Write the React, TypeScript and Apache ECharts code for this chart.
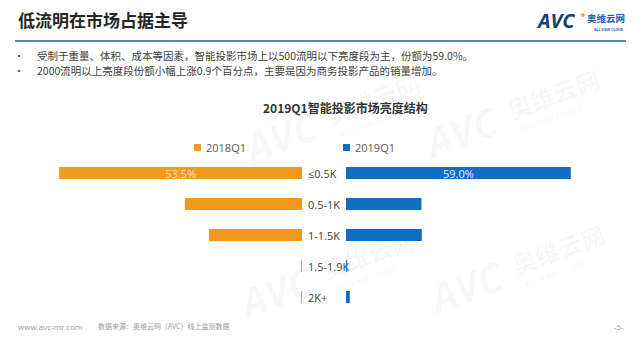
import React, { useEffect, useRef } from "react";
import * as echarts from "echarts";

const categories = ["≤0.5K", "0.5-1K", "1-1.5K", "1.5-1.9K", "2K+"];
const series2018 = [53.5, 25.8, 20.5, 0.1, 0.1];
const series2019 = [59.0, 19.8, 19.9, 0.3, 1.0];
const seriesNames = ["2018Q1", "2019Q1"];
const bullets = [
  "受制于重量、体积、成本等因素，智能投影市场上以500流明以下亮度段为主，份额为59.0%。",
  "2000流明以上亮度段份额小幅上涨0.9个百分点，主要是因为商务投影产品的销量增加。",
];

const ORANGE = "#F39A1E";
const BLUE = "#0F6EC4";

function watermark(x: number, y: number) {
  return {
    type: "group",
    x,
    y,
    rotation: (20 * Math.PI) / 180,
    silent: true,
    children: [
      {
        type: "text",
        x: 0,
        y: 0,
        style: {
          text: "AVC",
          font: "italic bold 40px 'Open Sans', sans-serif",
          fill: "rgba(0,0,0,0.035)",
        },
      },
      {
        type: "text",
        x: 88,
        y: 4,
        style: {
          text: "奥维云网",
          font: "bold 24px 'Noto Sans CJK SC', sans-serif",
          fill: "rgba(0,0,0,0.035)",
        },
      },
      {
        type: "text",
        x: 92,
        y: 34,
        style: {
          text: "ALL VIEW CLOUD",
          font: "bold 8px 'Open Sans', sans-serif",
          fill: "rgba(0,0,0,0.04)",
        },
      },
    ],
  };
}

export default function App() {
  const ref = useRef<HTMLDivElement>(null);
  useEffect(() => {
    document.body.style.margin = "0";
    const chart = echarts.init(ref.current!, null, { renderer: "svg" });
    const labelFirst = (color: string) => ({
      show: true,
      position: "inside",
      color,
      fontSize: 11,
      fontFamily: "'Open Sans', sans-serif",
      formatter: (p: any) => (p.dataIndex === 0 ? p.value.toFixed(1) + "%" : ""),
    });
    const legendText = {
      fontSize: 11,
      color: "#595959",
      fontFamily: "'Open Sans', sans-serif",
    };
    chart.setOption({
      animation: false,
      backgroundColor: "#ffffff",
      title: {
        text: "2019Q1智能投影市场亮度结构",
        left: 258,
        top: 96,
        textStyle: {
          fontSize: 12,
          fontWeight: "bold",
          color: "#333333",
          fontFamily: "'Noto Sans CJK SC', sans-serif",
        },
      },
      legend: [
        {
          data: [seriesNames[0]],
          left: 189,
          top: 137,
          icon: "rect",
          itemWidth: 7,
          itemHeight: 7,
          itemGap: 4,
          textStyle: legendText,
        },
        {
          data: [seriesNames[1]],
          left: 338,
          top: 137,
          icon: "rect",
          itemWidth: 7,
          itemHeight: 7,
          itemGap: 4,
          textStyle: legendText,
        },
      ],
      grid: [
        { left: 29.6, width: 272.4, top: 157.5, height: 155 },
        { left: 346, width: 228.6, top: 157.5, height: 155 },
      ],
      xAxis: [
        { type: "value", gridIndex: 0, min: 0, max: 60, inverse: true, show: false },
        { type: "value", gridIndex: 1, min: 0, max: 60, show: false },
      ],
      yAxis: [
        {
          type: "category",
          gridIndex: 0,
          data: categories,
          inverse: true,
          position: "right",
          axisLine: { show: false },
          axisTick: { show: false },
          axisLabel: {
            show: true,
            align: "left",
            margin: 6,
            fontSize: 11,
            color: "#404040",
            fontFamily: "'Open Sans', sans-serif",
          },
        },
        {
          type: "category",
          gridIndex: 1,
          data: categories,
          inverse: true,
          show: false,
        },
      ],
      series: [
        {
          name: seriesNames[0],
          type: "bar",
          xAxisIndex: 0,
          yAxisIndex: 0,
          data: series2018,
          barWidth: 12,
          barMinHeight: 1,
          itemStyle: { color: ORANGE },
          label: labelFirst("#FCE3C4"),
        },
        {
          name: seriesNames[1],
          type: "bar",
          xAxisIndex: 1,
          yAxisIndex: 1,
          data: series2019,
          barWidth: 12,
          barMinHeight: 1,
          itemStyle: { color: BLUE },
          label: labelFirst("#E6F0FA"),
        },
      ],
      graphic: [
        watermark(240, 130),
        watermark(420, 125),
        watermark(235, 285),
        watermark(425, 280),
        {
          type: "text",
          x: 18,
          y: 11,
          style: {
            text: "低流明在市场占据主导",
            font: "bold 17px 'Noto Sans CJK SC', sans-serif",
            fill: "#262626",
          },
        },
        {
          type: "line",
          shape: { x1: 15, y1: 41, x2: 626, y2: 41 },
          style: { stroke: "#1F5FA8", lineWidth: 1.5 },
        },
        {
          type: "text",
          x: 538,
          y: 10,
          style: {
            text: "AVC",
            font: "italic bold 20px 'Open Sans', sans-serif",
            fill: "#16406F",
          },
        },
        {
          type: "circle",
          shape: { cx: 583, cy: 15, r: 1.8 },
          style: { fill: "#F39A1E" },
        },
        {
          type: "text",
          x: 587,
          y: 13,
          style: {
            text: "奥维云网",
            font: "bold 9.5px 'Noto Sans CJK SC', sans-serif",
            fill: "#1F5FA8",
          },
        },
        {
          type: "text",
          x: 594,
          y: 27,
          style: {
            text: "ALL VIEW CLOUD",
            font: "bold 3.5px 'Open Sans', sans-serif",
            fill: "#1F5FA8",
          },
        },
        ...bullets.flatMap((b, i) => [
          {
            type: "text",
            x: 14,
            y: 50 + i * 15,
            style: { text: "•", font: "10px 'Noto Sans CJK SC', sans-serif", fill: "#404040" },
          },
          {
            type: "text",
            x: 37,
            y: 50 + i * 15,
            style: { text: b, font: "10.5px 'Noto Sans CJK SC', sans-serif", fill: "#404040" },
          },
        ]),
        {
          type: "text",
          x: 18,
          y: 322,
          style: { text: "www.avc-mr.com", font: "8px 'Open Sans', sans-serif", fill: "#9a9a9a" },
        },
        {
          type: "text",
          x: 98,
          y: 322,
          style: {
            text: "数据来源：奥维云网（AVC）线上监测数据",
            font: "7px 'Noto Sans CJK SC', sans-serif",
            fill: "#9a9a9a",
          },
        },
        {
          type: "text",
          x: 614,
          y: 322,
          style: { text: "-5-", font: "8px 'Open Sans', sans-serif", fill: "#9a9a9a" },
        },
      ],
    });
    return () => chart.dispose();
  }, []);
  return <div ref={ref} style={{ width: 640, height: 360 }} />;
}
